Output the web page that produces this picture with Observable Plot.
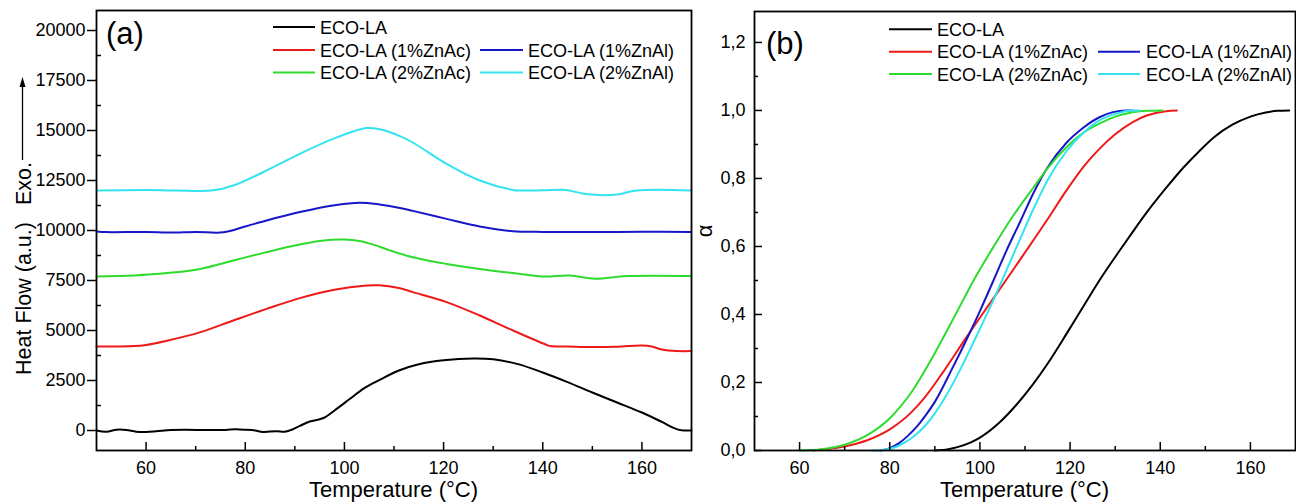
<!DOCTYPE html>
<html><head><meta charset="utf-8">
<script src="https://cdn.jsdelivr.net/npm/d3@7"></script>
<script src="https://cdn.jsdelivr.net/npm/@observablehq/plot@0.6"></script>
<style>
body{margin:0;background:#fff;}
#wrap{display:flex;width:1296px;height:502px;overflow:hidden;background:#fff;}
svg{display:block;overflow:visible}
</style></head><body><div id="wrap"></div>
<script>
// ---------- data ----------
const seriesNames = ["ECO-LA","ECO-LA (1%ZnAc)","ECO-LA (1%ZnAl)","ECO-LA (2%ZnAc)","ECO-LA (2%ZnAl)"];
const seriesColors = ["#000000","#ee1a1a","#1717c8","#2edc2e","#33e4f0"];

// (a) DSC heat flow curves: [temperature °C, heat flow a.u.]
const dscECO = [[50,0],[52,-60],[54,40],[56,30],[58,-60],[60,-70],[62,-40],[65,20],[68,40],[72,20],[76,30],[78,60],[80,40],[82,0],[83.5,-80],[85,-50],[86.5,-40],[88,-60],[89.5,50],[91,230],[93,450],[95,560],[96,650],[98,1000],[101,1560],[104,2120],[107,2520],[111,3000],[115,3310],[120,3510],[126,3600],[130,3560],[135,3320],[140,2900],[145,2420],[150,1900],[155,1400],[160,900],[164,430],[166.5,120],[168,10],[170,0]];
const dsc1ZnAc = [[50,4200],[54,4200],[57.6,4220],[60,4280],[64,4480],[71,4920],[77.6,5500],[84.3,6080],[91,6620],[97.7,7030],[104.5,7250],[107,7260],[111,7120],[113.8,6920],[120.6,6420],[127.3,5750],[134,5000],[140.7,4290],[141.5,4220],[145,4200],[150,4170],[155,4190],[160,4250],[162,4200],[164,4050],[167,3970],[170,3970]];
const dsc1ZnAl = [[50,9950],[52,9920],[60,9930],[65,9900],[70,9930],[75.6,9910],[80,10200],[84.3,10500],[91,10920],[97.7,11250],[103.1,11390],[107.1,11300],[111.2,11130],[113.8,10980],[120.6,10580],[127.3,10200],[134,9960],[140,9930],[150,9920],[160,9940],[170,9930]];
const dsc2ZnAc = [[50,7700],[54,7720],[57.6,7750],[64.2,7870],[70.9,8080],[77.6,8500],[84.3,8920],[90,9250],[95,9480],[100,9550],[103,9480],[106,9280],[109,9020],[113.8,8660],[120.6,8330],[127.3,8080],[134,7870],[140,7700],[145.4,7750],[150.5,7590],[157,7720],[170,7720]];
const dsc2ZnAl = [[50,12000],[60,12020],[66,12000],[73.6,12010],[77.6,12250],[84.3,13000],[91,13830],[97.7,14580],[104.5,15120],[107.1,15060],[111.2,14720],[113.8,14400],[120.6,13330],[127.3,12500],[134,12030],[135.4,12000],[140,12010],[144.8,12030],[148,11850],[151.5,11770],[155,11800],[158.9,12000],[170,12000]];

// (b) conversion curves: [temperature °C, alpha]
const convECO = [[90,0],[93,0.004],[95,0.01],[98,0.024],[100,0.038],[104.4,0.083],[108,0.133],[111.8,0.195],[115,0.255],[119.2,0.343],[123,0.425],[126.5,0.5],[131,0.588],[133.9,0.643],[137,0.7],[141.3,0.772],[145,0.83],[148.7,0.881],[152,0.922],[156,0.958],[160,0.982],[163.4,0.994],[166,0.999],[168.6,1.0]];
const conv1ZnAc = [[63,0],[65,0.003],[70,0.012],[75,0.03],[80,0.062],[85,0.115],[88,0.16],[91.9,0.232],[97.1,0.335],[102.6,0.44],[106,0.505],[110.3,0.588],[115,0.68],[119.2,0.765],[123,0.835],[126.5,0.887],[130,0.93],[133.9,0.966],[137,0.985],[141.3,0.998],[143.7,1.0]];
const conv1ZnAl = [[78,0],[80,0.007],[82,0.021],[84,0.043],[86,0.07],[88,0.104],[90,0.143],[93.7,0.237],[97.1,0.328],[100,0.41],[103,0.5],[105.9,0.588],[109,0.675],[111.8,0.755],[115,0.832],[119.2,0.905],[123,0.95],[126.5,0.98],[129.5,0.995],[132.5,1.0],[133.8,1.0]];
const conv2ZnAc = [[60,0],[65,0.004],[70,0.017],[75,0.045],[80,0.095],[85,0.175],[88.9,0.26],[92,0.335],[95,0.41],[98.5,0.498],[102.6,0.59],[107,0.683],[111.8,0.772],[115,0.83],[119.2,0.892],[123,0.935],[126.5,0.961],[130,0.982],[133.9,0.995],[137,0.999],[140.5,1.0]];
const conv2ZnAl = [[76,0],[78,0.001],[80,0.005],[82,0.014],[85,0.038],[88,0.075],[92,0.15],[95.6,0.237],[99,0.33],[102.6,0.431],[105,0.503],[107.7,0.585],[111.8,0.708],[115,0.795],[119.2,0.88],[123,0.935],[126.5,0.971],[130,0.99],[133.9,1.0],[135.4,1.0]];

// ticks
const tempTicks = [60,80,100,120,140,160];
const tempMinor = [70,90,110,130,150];
const heatTicks = [0,2500,5000,7500,10000,12500,15000,17500,20000];
const heatMinor = [1250,3750,6250,8750,11250,13750,16250,18750];
const alphaTicks = [0,0.2,0.4,0.6,0.8,1.0,1.2];
const alphaMinor = [0.1,0.3,0.5,0.7,0.9,1.1];

const dscSeries = [dscECO, dsc1ZnAc, dsc1ZnAl, dsc2ZnAc, dsc2ZnAl];
const convSeries = [convECO, conv1ZnAc, conv1ZnAl, conv2ZnAc, conv2ZnAl];

const FONT = "'Liberation Sans', Arial, sans-serif";
const lineMarks = (series, curve) => series.map((s, i) =>
  Plot.line(s, {x: d => d[0], y: d => d[1], stroke: seriesColors[i], strokeWidth: 2, curve}));

// ---------- panel (a) ----------
const plotA = Plot.plot({
  width: 700, height: 502,
  marginLeft: 96, marginRight: 9, marginTop: 10, marginBottom: 52,
  x: {domain: [50, 170]},
  y: {domain: [-1000, 21000]},
  style: {fontFamily: FONT, fontSize: "18px", color: "#000", background: "#fff"},
  marks: [
    ...lineMarks(dscSeries, "catmull-rom"),
    Plot.axisX(tempTicks, {tickSize: 0, tickPadding: 11, fontSize: 18, label: null}),
    Plot.axisX(tempTicks, {tickSize: -8, tickFormat: () => "", label: null, strokeWidth: 1.5}),
    Plot.axisX(tempMinor, {tickSize: -4, tickFormat: () => "", label: null, strokeWidth: 1.5}),
    Plot.axisY(heatTicks, {tickSize: 9, tickPadding: 2, fontSize: 18, label: null, tickFormat: d3.format("d"), strokeWidth: 1.5}),
    Plot.axisY(heatMinor, {tickSize: -5, tickFormat: () => "", label: null, strokeWidth: 1.5}),
    Plot.frame({stroke: "#000", strokeWidth: 1.8})
  ]
});

// ---------- panel (b) ----------
const plotB = Plot.plot({
  width: 596, height: 502,
  marginLeft: 54, marginRight: 1, marginTop: 11, marginBottom: 52,
  x: {domain: [50, 170]},
  y: {domain: [0, 1.291]},
  style: {fontFamily: FONT, fontSize: "18px", color: "#000", background: "#fff"},
  marks: [
    ...lineMarks(convSeries, "monotone-x"),
    Plot.axisX(tempTicks, {tickSize: 0, tickPadding: 11, fontSize: 18, label: null}),
    Plot.axisX(tempTicks, {tickSize: -8, tickFormat: () => "", label: null, strokeWidth: 1.5}),
    Plot.axisX(tempMinor, {tickSize: -4, tickFormat: () => "", label: null, strokeWidth: 1.5}),
    Plot.axisY(alphaTicks, {tickSize: 0, tickPadding: 9, fontSize: 18, label: null, tickFormat: d => d.toFixed(1).replace(".", ",")}),
    Plot.axisY(alphaTicks, {tickSize: -8, tickFormat: () => "", label: null, strokeWidth: 1.5}),
    Plot.axisY(alphaMinor, {tickSize: -4, tickFormat: () => "", label: null, strokeWidth: 1.5}),
    Plot.frame({stroke: "#000", strokeWidth: 1.8})
  ]
});

const wrap = document.getElementById("wrap");
wrap.appendChild(plotA);
wrap.appendChild(plotB);

// ---------- annotations ----------
function addText(svg, txt, x, y, size, opts = {}) {
  const t = d3.select(svg).append("text")
    .attr("x", x).attr("y", y)
    .attr("font-family", FONT).attr("font-size", size)
    .attr("fill", "#000")
    .attr("text-anchor", opts.anchor || "start")
    .text(txt);
  if (opts.rotate) t.attr("transform", `rotate(-90 ${x} ${y})`);
  return t;
}
function addLegend(svg, x0, x1, tx, y, color, label) {
  d3.select(svg).append("line").attr("x1", x0).attr("x2", x1).attr("y1", y).attr("y2", y)
    .attr("stroke", color).attr("stroke-width", 2);
  addText(svg, label, tx, y + 6.5, 18);
}

// panel (a)
addText(plotA, "(a)", 106, 44, 31);
addText(plotA, "Temperature (°C)", 393.5, 497, 22, {anchor: "middle"});
addText(plotA, "Heat Flow (a.u.)", 31, 375, 21.5, {rotate: true});
addText(plotA, "Exo.", 31, 205, 21.5, {rotate: true});
{
  const g = d3.select(plotA).append("g");
  g.append("line").attr("x1", 22.5).attr("x2", 22.5).attr("y1", 160).attr("y2", 84)
    .attr("stroke", "#000").attr("stroke-width", 1.3);
  g.append("path").attr("d", "M22.5,77 L19.5,87 L25.5,87 Z").attr("fill", "#000");
}
const legA = [[0, 273, 315, 320, 27], [1, 273, 315, 320, 50], [3, 273, 315, 320, 72.5], [2, 480, 523, 528, 50], [4, 480, 523, 528, 72.5]];
legA.forEach(([i, a, b, t, y]) => addLegend(plotA, a, b, t, y, seriesColors[i], seriesNames[i]));

// panel (b)
addText(plotB, "(b)", 66, 54, 31);
addText(plotB, "Temperature (°C)", 324.5, 497, 22, {anchor: "middle"});
addText(plotB, "α", 12, 231, 22, {rotate: true, anchor: "middle"});
const legB = [[0, 189, 232, 237, 29.3], [1, 189, 232, 237, 51.7], [3, 189, 232, 237, 74], [2, 398, 440, 446, 51.7], [4, 398, 440, 446, 74]];
legB.forEach(([i, a, b, t, y]) => addLegend(plotB, a, b, t, y, seriesColors[i], seriesNames[i]));
</script></body></html>
